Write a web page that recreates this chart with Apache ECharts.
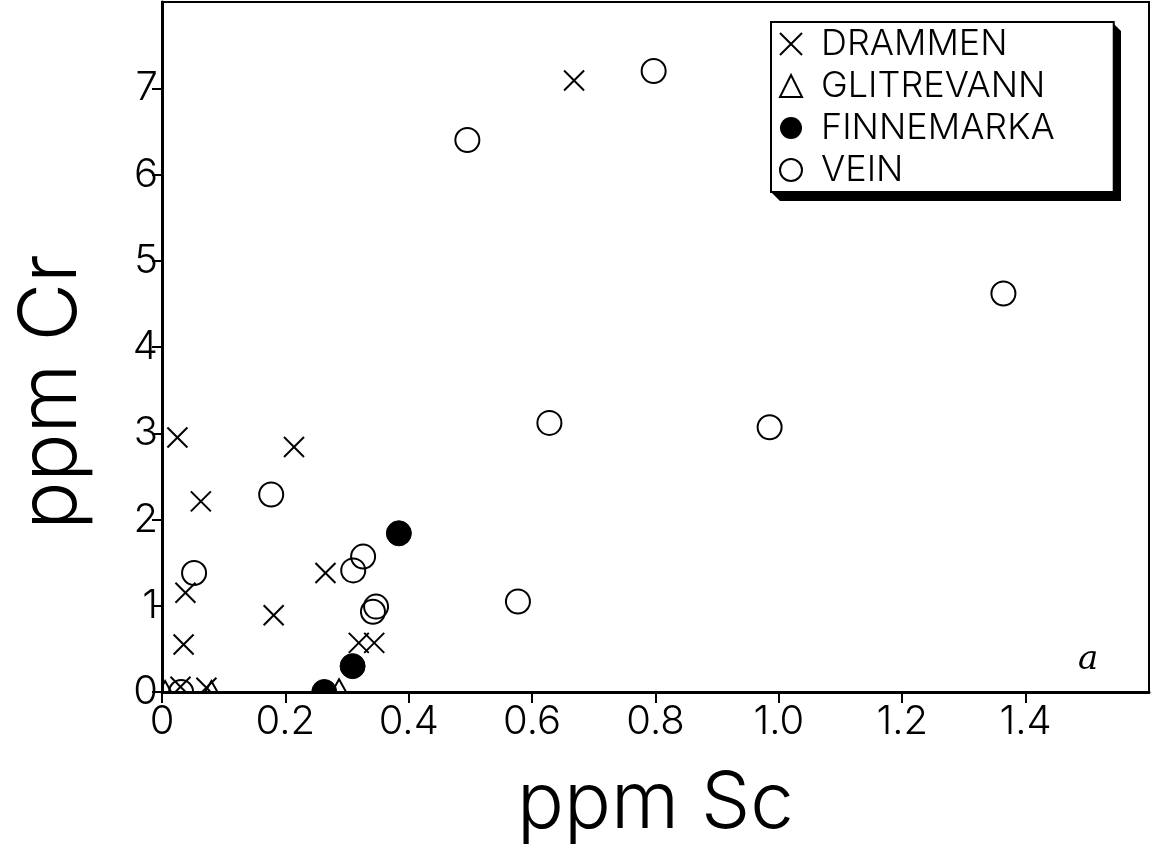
<!DOCTYPE html>
<html><head><meta charset="utf-8">
<script src="https://cdn.jsdelivr.net/npm/echarts@6/dist/echarts.min.js"></script>
<style>html,body{margin:0;padding:0;background:#fff}#c{width:1155px;height:849px}</style>
</head><body><div id="c"></div>
<script>
// ---- data (ppm Sc, ppm Cr) ----
const seriesNames = ['DRAMMEN', 'GLITREVANN', 'FINNEMARKA', 'VEIN'];
const drammen = [
  [0.668, 7.09], [0.025, 2.95], [0.214, 2.84], [0.063, 2.21], [0.038, 1.15],
  [0.035, 0.55], [0.181, 0.89], [0.265, 1.38], [0.319, 0.57], [0.344, 0.57],
  [0.030, 0.06], [0.072, 0.05]
];
const glitrevann = [[0.005, 0.0], [0.080, 0.0], [0.287, 0.02]];
const finnemarka = [[0.384, 1.84], [0.309, 0.30], [0.263, 0.0]];
const vein = [
  [0.797, 7.20], [0.495, 6.40], [1.364, 4.62], [0.628, 3.12], [0.985, 3.07],
  [0.177, 2.29], [0.052, 1.38], [0.326, 1.57], [0.310, 1.41], [0.347, 0.99],
  [0.342, 0.93], [0.577, 1.05], [0.031, 0.0]
];
const xTicks = [0, 0.2, 0.4, 0.6, 0.8, 1.0, 1.2, 1.4];
const xTickLabels = ['0', '0.2', '0.4', '0.6', '0.8', '1.0', '1.2', '1.4'];
const yTicks = [0, 1, 2, 3, 4, 5, 6, 7];
const yTickLabels = ['0', '1', '2', '3', '4', '5', '6', '7'];

const FONT = 'Inter';
const chart = echarts.init(document.getElementById('c'));

function renderer(kind) {
  return function (params, api) {
    const p = api.coord([api.value(0), api.value(1)]);
    const st = { stroke: '#000', lineWidth: 2, fill: 'none' };
    if (kind === 'cross') {
      const s = 10;
      return { type: 'group', children: [
        { type: 'line', shape: { x1: p[0] - s, y1: p[1] - s, x2: p[0] + s, y2: p[1] + s }, style: st },
        { type: 'line', shape: { x1: p[0] - s, y1: p[1] + s, x2: p[0] + s, y2: p[1] - s }, style: st }
      ] };
    }
    if (kind === 'triangle') {
      const s = 11;
      return { type: 'polygon', shape: { points: [[p[0], p[1] - s], [p[0] + s, p[1] + s * 0.8], [p[0] - s, p[1] + s * 0.8]] }, style: st };
    }
    if (kind === 'dot') {
      return { type: 'circle', shape: { cx: p[0], cy: p[1], r: 12.5 }, style: { fill: '#000', stroke: '#000', lineWidth: 1 } };
    }
    return { type: 'circle', shape: { cx: p[0], cy: p[1], r: 12 }, style: st };
  };
}

const kinds = ['cross', 'triangle', 'dot', 'ring'];
const datas = [drammen, glitrevann, finnemarka, vein];

chart.setOption({
  animation: false,
  backgroundColor: '#fff',
  grid: { left: 162, right: 6, top: 2, bottom: 157, containLabel: false, outerBoundsMode: 'none',
    show: true, borderColor: '#000', borderWidth: 2, backgroundColor: 'transparent' },
  xAxis: {
    type: 'value', min: 0, max: 1.6, interval: 0.2,
    axisLine: { show: true, onZero: false, lineStyle: { color: '#000', width: 3 } },
    axisTick: { show: true, length: 11, customValues: xTicks, lineStyle: { color: '#000', width: 2 } },
    splitLine: { show: false },
    axisLabel: { margin: 10, fontSize: 40, fontFamily: FONT, fontWeight: 300, color: '#000',
      customValues: xTicks, formatter: (v) => xTickLabels[xTicks.findIndex(t => Math.abs(t - v) < 1e-9)] ?? '' },
    name: 'ppm Sc', nameLocation: 'middle', nameGap: 74,
    nameTextStyle: { fontSize: 78, fontFamily: FONT, fontWeight: 300, color: '#000' }
  },
  yAxis: {
    type: 'value', min: 0, max: 8, interval: 1,
    axisLine: { show: true, onZero: false, lineStyle: { color: '#000', width: 3 } },
    axisTick: { show: true, length: 10, customValues: yTicks, lineStyle: { color: '#000', width: 2 } },
    splitLine: { show: false },
    axisLabel: { margin: 4, fontSize: 40, fontFamily: FONT, fontWeight: 300, color: '#000',
      customValues: yTicks, formatter: (v) => yTickLabels[yTicks.indexOf(v)] ?? '' },
    name: 'ppm Cr', nameLocation: 'middle', nameGap: 70,
    nameTextStyle: { fontSize: 80, fontFamily: FONT, fontWeight: 300, color: '#000', padding: [0, 90, 0, 0] }
  },
  legend: {
    orient: 'vertical', left: 771, top: 22,
    padding: [4, 59, 4, 8], itemGap: 6, itemWidth: 22, itemHeight: 22,
    backgroundColor: '#fff', borderColor: '#000', borderWidth: 2,
    textStyle: { fontSize: 36, fontFamily: FONT, fontWeight: 300, color: '#000', padding: [0, 0, 0, 14] },
    selectedMode: false,
    z: 5,
    data: [
      { name: seriesNames[0], icon: 'path://M0,0L20,20M20,0L0,20', itemStyle: { color: 'rgba(0,0,0,0)', borderColor: '#000', borderWidth: 2 } },
      { name: seriesNames[1], icon: 'triangle', itemStyle: { color: 'rgba(0,0,0,0)', borderColor: '#000', borderWidth: 2 } },
      { name: seriesNames[2], icon: 'circle', itemStyle: { color: '#000', borderColor: '#000', borderWidth: 0 } },
      { name: seriesNames[3], icon: 'circle', itemStyle: { color: 'rgba(0,0,0,0)', borderColor: '#000', borderWidth: 2 } }
    ]
  },
  graphic: [
    { type: 'polygon', z: 1, silent: true,
      shape: { points: [[1112, 22], [1121, 31], [1121, 201], [780, 201], [771, 192], [1112, 192]] },
      style: { fill: '#000' } },
    { type: 'text', left: 1078, top: 643, style: { text: 'a', font: 'italic 34px "DejaVu Serif"', fill: '#000' } }
  ],
  series: seriesNames.map((n, i) => ({
    name: n, type: 'custom', clip: true,
    encode: { x: 0, y: 1 },
    itemStyle: { color: '#000' },
    renderItem: renderer(kinds[i]),
    data: datas[i]
  }))
});
</script></body></html>
